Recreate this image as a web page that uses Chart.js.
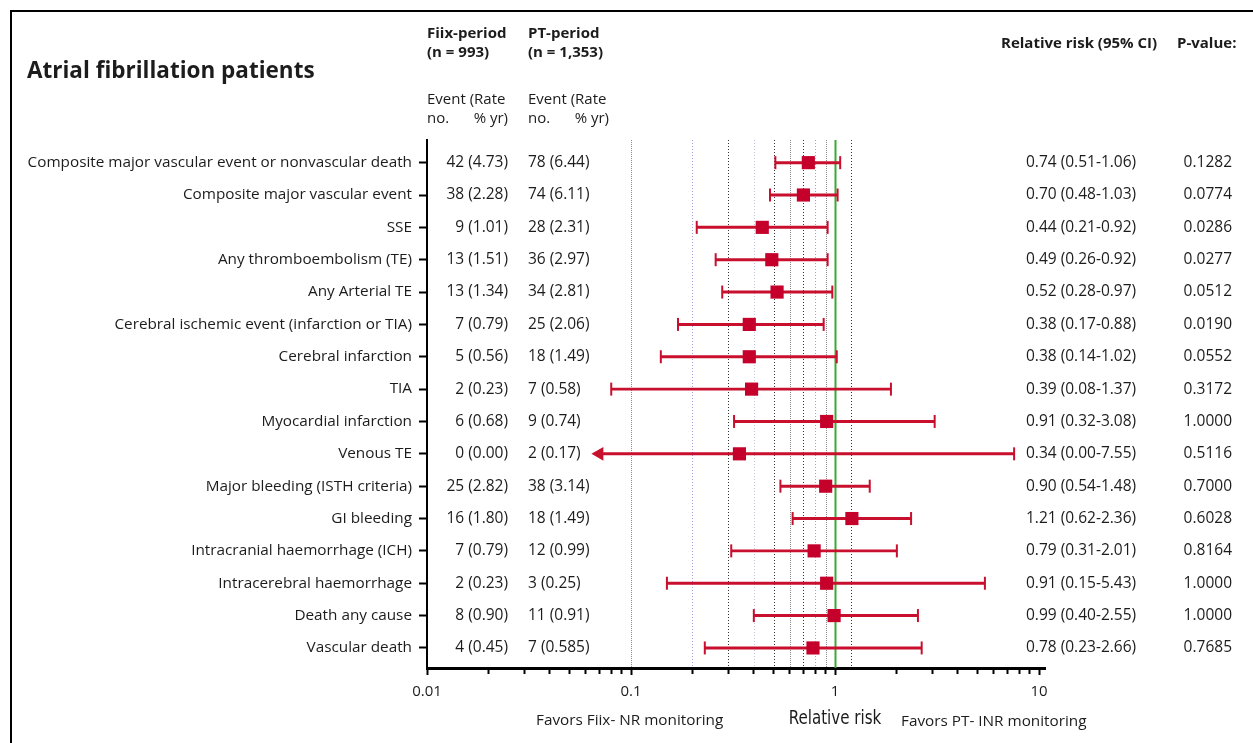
<!DOCTYPE html>
<html>
<head>
<meta charset="utf-8">
<title>Atrial fibrillation patients</title>
<script src="https://cdn.jsdelivr.net/npm/chart.js@4.4.1/dist/chart.umd.min.js"></script>
<style>
  html, body { margin: 0; padding: 0; background: #fff; overflow: hidden; }
  #chart { display: block; }
</style>
</head>
<body>
<canvas id="chart" width="1253" height="743"></canvas>
<script>
// ---- data ----
const categories = [
    'Composite major vascular event or nonvascular death',
    'Composite major vascular event',
    'SSE',
    'Any thromboembolism (TE)',
    'Any Arterial TE',
    'Cerebral ischemic event (infarction or TIA)',
    'Cerebral infarction',
    'TIA',
    'Myocardial infarction',
    'Venous TE',
    'Major bleeding (ISTH criteria)',
    'GI bleeding',
    'Intracranial haemorrhage (ICH)',
    'Intracerebral haemorrhage',
    'Death any cause',
    'Vascular death'
];
const fiixEvents = ['42 (4.73)', '38 (2.28)', '9 (1.01)', '13 (1.51)', '13 (1.34)', '7 (0.79)', '5 (0.56)', '2 (0.23)',
    '6 (0.68)', '0 (0.00)', '25 (2.82)', '16 (1.80)', '7 (0.79)', '2 (0.23)', '8 (0.90)', '4 (0.45)'];
const ptEvents = ['78 (6.44)', '74 (6.11)', '28 (2.31)', '36 (2.97)', '34 (2.81)', '25 (2.06)', '18 (1.49)', '7 (0.58)',
    '9 (0.74)', '2 (0.17)', '38 (3.14)', '18 (1.49)', '12 (0.99)', '3 (0.25)', '11 (0.91)', '7 (0.585)'];
const rrText = ['0.74 (0.51-1.06)', '0.70 (0.48-1.03)', '0.44 (0.21-0.92)', '0.49 (0.26-0.92)', '0.52 (0.28-0.97)',
    '0.38 (0.17-0.88)', '0.38 (0.14-1.02)', '0.39 (0.08-1.37)', '0.91 (0.32-3.08)', '0.34 (0.00-7.55)',
    '0.90 (0.54-1.48)', '1.21 (0.62-2.36)', '0.79 (0.31-2.01)', '0.91 (0.15-5.43)', '0.99 (0.40-2.55)', '0.78 (0.23-2.66)'];
const pValues = ['0.1282', '0.0774', '0.0286', '0.0277', '0.0512', '0.0190', '0.0552', '0.3172',
    '1.0000', '0.5116', '0.7000', '0.6028', '0.8164', '1.0000', '1.0000', '0.7685'];

// plotted marks (as drawn in the figure)
const rr = [0.74, 0.70, 0.44, 0.49, 0.52, 0.38, 0.38, 0.39, 0.91, 0.34, 0.90, 1.21, 0.79, 0.91, 0.99, 0.78];
const ciLow = [0.51, 0.48, 0.21, 0.26, 0.28, 0.17, 0.14, 0.08, 0.32, 0.07, 0.54, 0.62, 0.31, 0.15, 0.40, 0.23];
const ciHigh = [1.06, 1.03, 0.92, 0.92, 0.97, 0.88, 1.02, 1.88, 3.08, 7.55, 1.48, 2.36, 2.01, 5.43, 2.55, 2.66];
const openLow = [false, false, false, false, false, false, false, false, false, true, false, false, false, false, false, false];

const xTickLabels = [0.01, 0.1, 1, 10];
const refLines = [0.1, 0.2, 0.3, 0.4, 0.5, 0.6, 0.7, 0.8, 0.9, 1, 1.2];

// ---- styling ----
const RED = '#c8102e';
const FONT = '"Open Sans", Lato, sans-serif';
const TXT = '#1c1c1c';

// line style per reference value
function refStyle(v) {
    if (v === 1) return { color: '#3aa935', width: 2, dash: [] };
    if (v === 0.1 || v === 0.6 || v === 0.9) return { color: '#8a8a8a', width: 1, dash: [1, 1] };
    if (v === 0.2 || v === 0.8) return { color: '#a0a0d8', width: 1, dash: [1, 2] };
    if (v === 0.4) return { color: '#c4c4e0', width: 1, dash: [1, 2] };
    return { color: '#333', width: 1, dash: [1, 2] };
}

let xTicksAll = [];
for (let d = 0.01; d < 10; d *= 10) {
    for (let k = 1; k < 10; k++) xTicksAll.push(+(k * d).toPrecision(3));
}
xTicksAll.push(10);

const rowIdx = categories.map((c, i) => i);

const forestPlugin = {
    id: 'forest',
    beforeDatasetsDraw(chart) {
        const ctx = chart.ctx, xs = chart.scales.x, area = chart.chartArea;
        ctx.save();
        refLines.forEach(v => {
            const s = refStyle(v);
            const px = Math.round(xs.getPixelForValue(v)) + 0.5;
            ctx.strokeStyle = s.color;
            ctx.lineWidth = s.width;
            ctx.setLineDash(s.dash);
            ctx.beginPath();
            ctx.moveTo(px, area.top);
            ctx.lineTo(px, area.bottom);
            ctx.stroke();
        });
        ctx.restore();
    },
    afterDraw(chart) {
        const ctx = chart.ctx, ys = chart.scales.y, xs = chart.scales.x;
        ctx.save();
        // frame
        ctx.strokeStyle = '#000';
        ctx.lineWidth = 2;
        ctx.beginPath();
        ctx.moveTo(11, 743);
        ctx.lineTo(11, 11);
        ctx.lineTo(1253, 11);
        ctx.stroke();

        ctx.fillStyle = TXT;
        ctx.textBaseline = 'middle';

        // title
        ctx.font = 'bold 22.5px ' + FONT;
        ctx.textAlign = 'left';
        ctx.fillText('Atrial fibrillation patients', 27, 72);

        // column headers
        ctx.font = 'bold 15px ' + FONT;
        ctx.fillText('Fiix-period', 427, 34);
        ctx.fillText('(n = 993)', 427, 53);
        ctx.fillText('PT-period', 528, 34);
        ctx.fillText('(n = 1,353)', 528, 53);
        ctx.fillText('Relative risk (95% CI)', 1001, 44);
        ctx.fillText('P-value:', 1177, 44);

        ctx.font = '15px ' + FONT;
        ctx.fillText('Event (Rate', 427, 100);
        ctx.fillText('no.', 427, 119);
        ctx.fillText('Event (Rate', 528, 100);
        ctx.fillText('no.', 528, 119);
        ctx.textAlign = 'right';
        ctx.fillText('% yr)', 508, 119);
        ctx.fillText('% yr)', 609, 119);

        // row columns
        ctx.font = '15.5px ' + FONT;
        categories.forEach((c, i) => {
            const py = ys.getPixelForValue(i);
            ctx.textAlign = 'right';
            ctx.fillText(fiixEvents[i], 508, py);
            ctx.fillText(pValues[i], 1232, py);
            ctx.textAlign = 'left';
            ctx.fillText(ptEvents[i], 528, py);
            ctx.fillText(rrText[i], 1026, py);
        });

        // bottom notes
        ctx.font = '15.3px ' + FONT;
        ctx.textAlign = 'left';
        ctx.fillText('Favors Fiix- NR monitoring', 536, 721);
        ctx.fillText('Favors PT- INR monitoring', 901, 722);

        // axis title in a condensed face
        ctx.textAlign = 'center';
        ctx.font = '20px "Liberation Sans Narrow", "DejaVu Sans Condensed", sans-serif';
        ctx.translate(xs.getPixelForValue(1), 719);
        ctx.scale(0.84, 1);
        ctx.fillText('Relative risk', 0, 0);
        ctx.restore();
    }
};

Chart.defaults.font.family = FONT;
Chart.defaults.color = TXT;

const ctx = document.getElementById('chart');

new Chart(ctx, {
    type: 'bar',
    data: {
        datasets: [
            {
                type: 'scatter',
                label: 'RR',
                data: rowIdx.map(i => ({ x: rr[i], y: i })),
                pointStyle: 'rect',
                radius: 9.3,
                backgroundColor: '#c4002b',
                borderWidth: 0,
                order: 0
            },
            {
                type: 'scatter',
                label: 'caps',
                data: rowIdx.filter(i => !openLow[i]).map(i => ({ x: ciLow[i], y: i }))
                    .concat(rowIdx.map(i => ({ x: ciHigh[i], y: i }))),
                pointStyle: 'line',
                rotation: 90,
                radius: 6.5,
                borderColor: RED,
                borderWidth: 2,
                order: 1
            },
            {
                type: 'scatter',
                label: 'arrow',
                data: rowIdx.filter(i => openLow[i]).map(i => ({ x: ciLow[i], y: i })),
                pointStyle: 'triangle',
                rotation: -90,
                radius: 8,
                backgroundColor: RED,
                borderWidth: 0,
                order: 1
            },
            {
                label: 'CI',
                data: rowIdx.map(i => ({ x: [ciLow[i], ciHigh[i]], y: i })),
                backgroundColor: RED,
                borderWidth: 0,
                barThickness: 2.3,
                order: 2
            }
        ]
    },
    options: {
        indexAxis: 'y',
        responsive: false,
        animation: false,
        layout: { padding: { top: 140, right: 208, left: 0, bottom: 0 } },
        plugins: {
            legend: { display: false },
            tooltip: { enabled: false }
        },
        scales: {
            x: {
                type: 'logarithmic',
                min: 0.01,
                max: 10.7,
                afterBuildTicks: scale => { scale.ticks = xTicksAll.map(v => ({ value: v })); },
                afterFit: scale => { scale.height = 75; },
                grid: {
                    drawOnChartArea: false,
                    tickLength: 7,
                    tickWidth: 2,
                    tickColor: '#000',
                    tickBorderDash: c => (xTickLabels.includes(c.tick && c.tick.value) ? [] : [4, 50])
                },
                border: { color: '#000', width: 3 },
                ticks: {
                    autoSkip: false,
                    maxRotation: 0,
                    padding: 8,
                    font: { size: 15 },
                    callback: v => (xTickLabels.includes(v) ? String(v) : '')
                }
            },
            y: {
                type: 'linear',
                reverse: true,
                offset: false,
                bounds: 'data',
                min: -0.7,
                max: 15.62,
                afterBuildTicks: scale => { scale.ticks = rowIdx.map(i => ({ value: i })); },
                afterFit: scale => { scale.width = 427; },
                grid: {
                    offset: false,
                    drawOnChartArea: false,
                    tickLength: 8,
                    tickWidth: 2,
                    tickColor: '#000'
                },
                border: { color: '#000', width: 2 },
                ticks: {
                    autoSkip: false,
                    padding: 7,
                    font: { size: 15.3 },
                    callback: v => categories[v]
                }
            }
        }
    },
    plugins: [forestPlugin]
});
</script>
</body>
</html>
